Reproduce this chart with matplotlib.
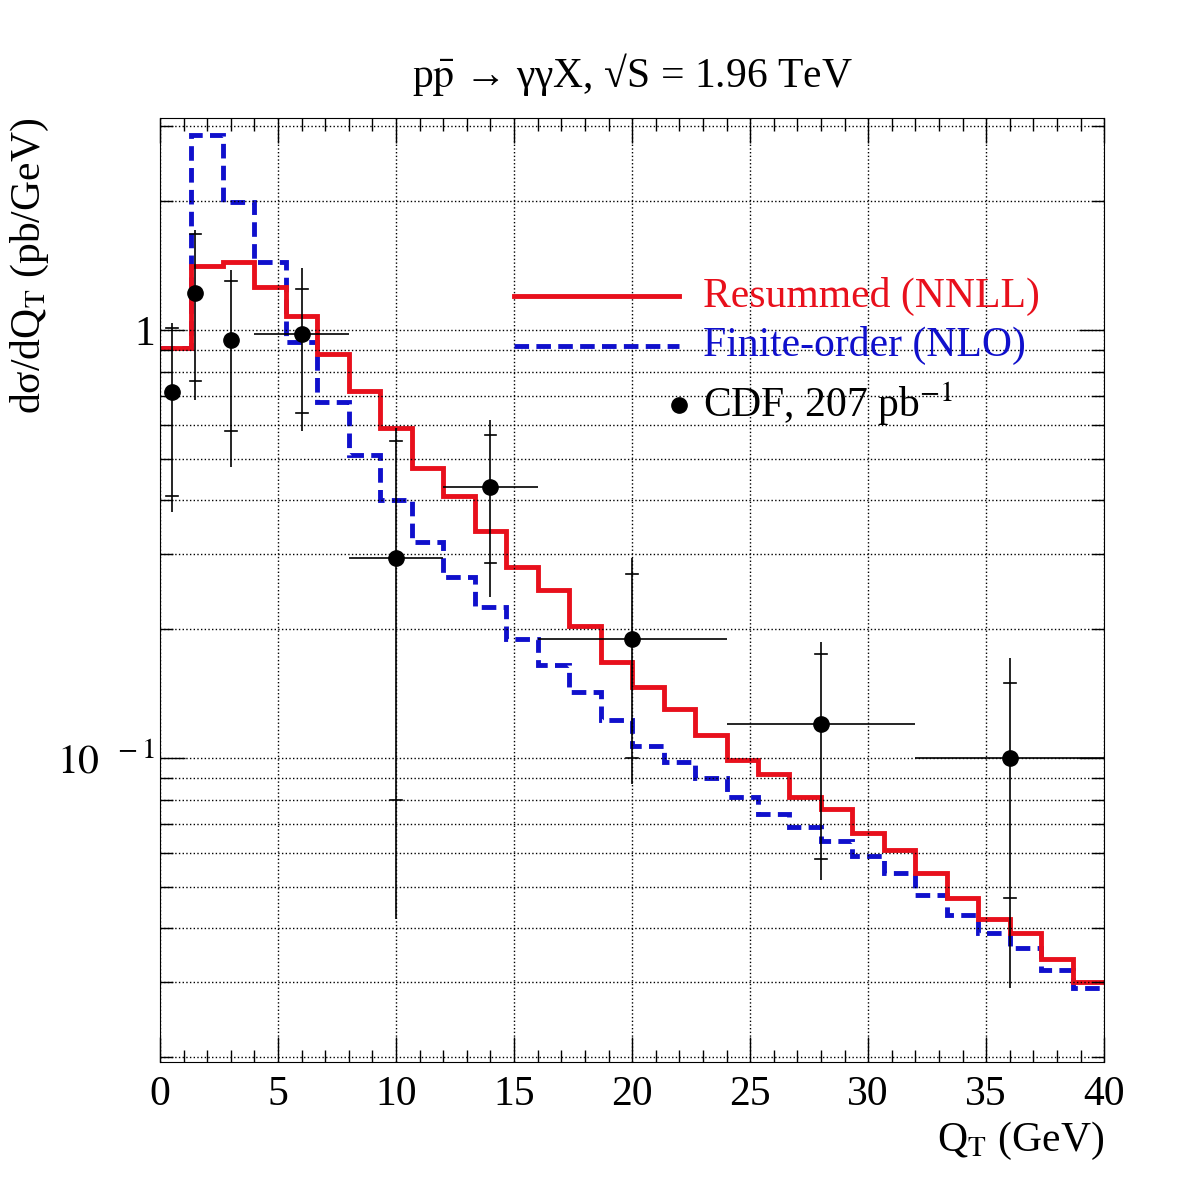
import matplotlib
matplotlib.use("Agg")
import matplotlib.pyplot as plt
import numpy as np

plt.rcParams['font.family'] = ['Liberation Serif', 'DejaVu Serif']
plt.rcParams['mathtext.fontset'] = 'stix'

edges = np.linspace(0, 40, 31)
resummed = [0.91, 1.41, 1.44, 1.26, 1.08, 0.88, 0.72, 0.59, 0.476, 0.41,
            0.34, 0.28, 0.247, 0.204, 0.168, 0.147, 0.13, 0.113, 0.099, 0.092,
            0.081, 0.076, 0.067, 0.061, 0.054, 0.047, 0.042, 0.039, 0.034, 0.030]
nlo = [0.91, 2.86, 1.99, 1.44, 0.94, 0.68, 0.51, 0.40, 0.32, 0.265,
       0.225, 0.19, 0.165, 0.143, 0.123, 0.107, 0.098, 0.09, 0.081, 0.074,
       0.069, 0.064, 0.059, 0.054, 0.048, 0.043, 0.039, 0.036, 0.032, 0.029]

cdf_x = [0.5, 1.5, 3, 6, 10, 14, 20, 28, 36]
cdf_y = [0.716, 1.22, 0.947, 0.98, 0.293, 0.43, 0.19, 0.12, 0.10]
cdf_xerr = [0, 0, 0, 2, 2, 2, 4, 4, 4]
cdf_hi = [1.04, 1.71, 1.38, 1.40, 0.59, 0.616, 0.293, 0.187, 0.171]
cdf_lo = [0.376, 0.686, 0.478, 0.58, 0.042, 0.238, 0.087, 0.052, 0.029]
stat_hi = [1.01, 1.68, 1.30, 1.25, 0.55, 0.57, 0.27, 0.175, 0.150]
stat_lo = [0.41, 0.76, 0.58, 0.64, 0.08, 0.285, 0.10, 0.058, 0.047]

fig = plt.figure(figsize=(11.81, 11.85), dpi=100)
ax = fig.add_axes([0.1355, 0.1038, 0.7995, 0.7966])

ax.stairs(nlo, edges, color='#1010cc', lw=3.5, ls=(0, (3, 1.5)), baseline=None)
ax.stairs(resummed, edges, color='#e8101c', lw=3.5, baseline=None)

y = np.array(cdf_y)
ax.errorbar(cdf_x, cdf_y, xerr=cdf_xerr,
            yerr=[y - np.array(cdf_lo), np.array(cdf_hi) - y],
            fmt='o', color='black', ms=11, lw=1.2, capsize=0)
# inner (statistical) error ticks
for xi, a, b in zip(cdf_x, stat_lo, stat_hi):
    ax.plot([xi - 0.25, xi + 0.25], [a, a], color='black', lw=1.2)
    ax.plot([xi - 0.25, xi + 0.25], [b, b], color='black', lw=1.2)

ax.set_yscale('log')
ax.set_xlim(0, 40)
ax.set_ylim(0.0195, 3.13)
ax.set_xticks([0, 5, 10, 15, 20, 25, 30, 35, 40])
ax.set_xticks(np.arange(0, 40.1, 1), minor=True)
ax.set_yticks([0.1, 1])
ax.set_yticklabels([r'$10^{\ \ -1}$', '1'])
ax.yaxis.set_minor_formatter(matplotlib.ticker.NullFormatter())
ax.tick_params(which='both', direction='in', top=True, right=True, labelsize=30)
ax.tick_params(which='major', length=18, width=1)
ax.tick_params(which='minor', length=9, width=1)
ax.tick_params(axis='x', pad=10)
ax.grid(True, which='major', ls=':', color='black', lw=1)
ax.grid(True, which='minor', axis='y', ls=':', color='black', lw=1)

ax.set_title('p\u0305p \u2192 \u03b3\u03b3X, \u221aS = 1.96 TeV'.replace('p\u0305p', 'p$\\bar{\\mathrm{p}}$'),
             fontsize=30, pad=22)
ax.set_xlabel(r'Q$_\mathrm{T}$ (GeV)', fontsize=30, loc='right')
ax.set_ylabel('d\u03c3/dQ$_\\mathrm{T}$ (pb/GeV)', fontsize=30, loc='top')

# legend drawn manually
ax.plot([15.0, 22.0], [1.2, 1.2], color='#e8101c', lw=3.5)
ax.text(23.0, 1.2, 'Resummed (NNLL)', color='#e8101c', fontsize=30, va='center')
ax.plot([15.0, 22.0], [0.92, 0.92], color='#1010cc', lw=3.5, ls=(0, (3, 1.5)))
ax.text(23.0, 0.92, 'Finite-order (NLO)', color='#1010cc', fontsize=30, va='center')
ax.plot([22.0], [0.67], 'o', color='black', ms=11)
ax.text(23.0, 0.67, 'CDF, 207 pb$^{\\mathrm{-1}}$', color='black', fontsize=30, va='center')

fig.savefig('out.png', dpi=100)
